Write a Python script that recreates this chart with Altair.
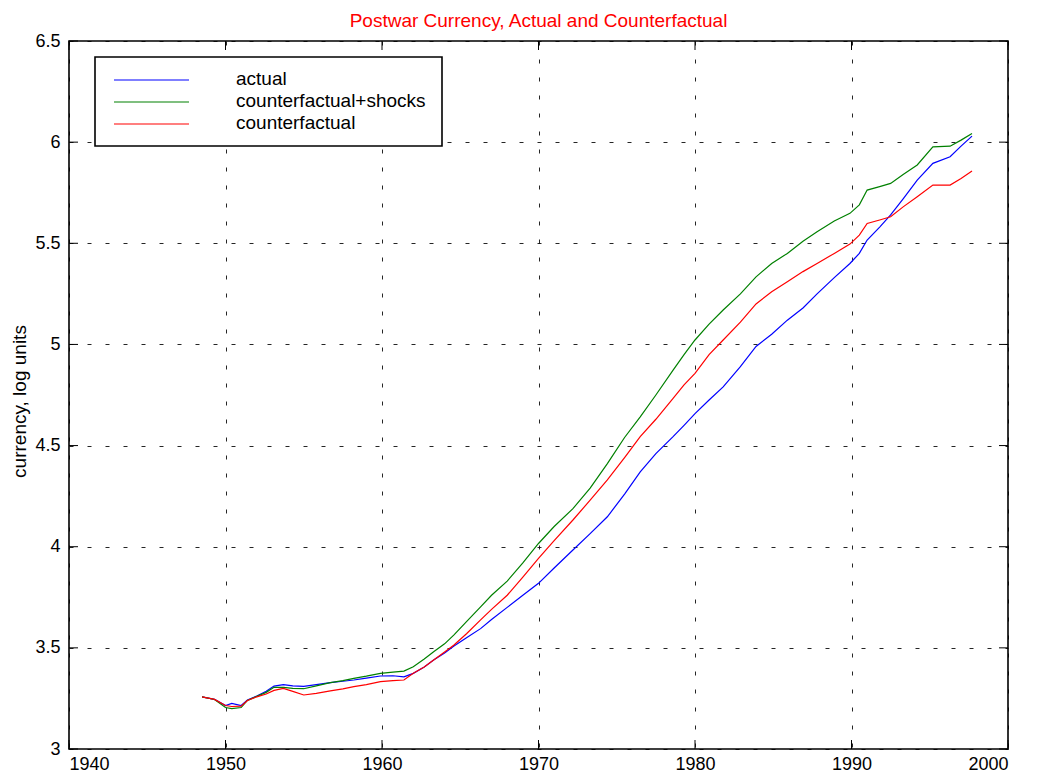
import altair as alt
import pandas as pd

# ---------------- data ----------------
years = [1948.5, 1949.3, 1950.0, 1950.4, 1951.0, 1951.4, 1952.0, 1952.6, 1953.1, 1953.7,
         1954.3, 1955.0, 1955.8, 1956.7, 1957.5, 1958.2, 1959.0, 1959.9, 1960.7, 1961.4,
         1962.0, 1962.7, 1963.3, 1964.0, 1964.6, 1965.4, 1966.3, 1967.0, 1968.0, 1969.0,
         1970.0, 1971.0, 1972.2, 1973.3, 1974.4, 1975.5, 1976.5, 1977.5, 1978.6, 1979.3,
         1980.0, 1980.9, 1981.8, 1982.9, 1983.9, 1984.9, 1985.9, 1986.9, 1987.8, 1988.9,
         1989.9, 1990.5, 1991.0, 1991.8, 1992.5, 1993.3, 1994.2, 1995.2, 1996.3, 1997.0,
         1997.7]

actual = [3.258, 3.245, 3.215, 3.225, 3.215, 3.242, 3.262, 3.285, 3.311, 3.318,
          3.312, 3.310, 3.318, 3.328, 3.335, 3.341, 3.350, 3.361, 3.362, 3.357,
          3.374, 3.405, 3.440, 3.475, 3.509, 3.550, 3.595, 3.640, 3.700, 3.760,
          3.819, 3.895, 3.984, 4.065, 4.148, 4.260, 4.370, 4.460, 4.544, 4.600,
          4.658, 4.725, 4.790, 4.890, 4.990, 5.050, 5.120, 5.180, 5.250, 5.330,
          5.400, 5.450, 5.516, 5.580, 5.640, 5.720, 5.812, 5.895, 5.928, 5.980,
          6.030]

cf_shocks = [3.258, 3.245, 3.205, 3.200, 3.205, 3.240, 3.260, 3.280, 3.305, 3.305,
             3.300, 3.298, 3.312, 3.328, 3.338, 3.349, 3.360, 3.374, 3.380, 3.385,
             3.407, 3.445, 3.481, 3.520, 3.564, 3.630, 3.703, 3.760, 3.830, 3.920,
             4.016, 4.100, 4.188, 4.290, 4.411, 4.540, 4.642, 4.750, 4.873, 4.950,
             5.022, 5.100, 5.170, 5.250, 5.334, 5.400, 5.450, 5.510, 5.557, 5.610,
             5.648, 5.690, 5.763, 5.780, 5.796, 5.840, 5.887, 5.977, 5.980, 6.010,
             6.043]

cf = [3.258, 3.245, 3.215, 3.210, 3.212, 3.240, 3.258, 3.272, 3.290, 3.300,
      3.285, 3.267, 3.275, 3.287, 3.297, 3.308, 3.318, 3.333, 3.338, 3.341,
      3.374, 3.405, 3.440, 3.480, 3.514, 3.570, 3.638, 3.690, 3.760, 3.850,
      3.942, 4.030, 4.132, 4.230, 4.330, 4.440, 4.544, 4.630, 4.733, 4.800,
      4.857, 4.950, 5.022, 5.110, 5.200, 5.260, 5.310, 5.360, 5.400, 5.450,
      5.496, 5.540, 5.598, 5.615, 5.631, 5.680, 5.730, 5.788, 5.788, 5.820,
      5.857]

series_names = ["actual", "counterfactual+shocks", "counterfactual"]
series_colors = ["#0000FF", "#008000", "#FF0000"]
x_ticks = [1940, 1950, 1960, 1970, 1980, 1990, 2000]
y_ticks = [3, 3.5, 4, 4.5, 5, 5.5, 6, 6.5]

# ---------------- tables ----------------
rows = []
for name, vals in zip(series_names, [actual, cf_shocks, cf]):
    for yr, v in zip(years, vals):
        rows.append({"year": yr, "value": v, "series": name})
df = pd.DataFrame(rows)
xt_df = pd.DataFrame({"year": x_ticks})
yt_df = pd.DataFrame({"value": y_ticks})
leg_df = pd.DataFrame({"series": series_names})

W, H = 939, 708
TICK = 9
FONT = "Liberation Sans"

xscale = alt.Scale(domain=[1940, 2000], nice=False, zero=False)
yscale = alt.Scale(domain=[3, 6.5], nice=False, zero=False)

grid_style = dict(grid=True, gridColor="black", gridDash=[4, 14], gridWidth=1, gridOpacity=0.85,
                  ticks=False, domain=False, labelFont=FONT, labelFontSize=18, labelColor="black")
x_axis = alt.Axis(values=x_ticks, format="d", title=None, labelPadding=6, **grid_style)
y_axis = alt.Axis(values=y_ticks, format="~g", title="currency, log units",
                  titleFont=FONT, titleFontSize=19, titleFontWeight="normal",
                  titleColor="black", titlePadding=5, titleY=360, labelPadding=9, **grid_style)
X = alt.X("year:Q", scale=xscale, axis=x_axis)
Y = alt.Y("value:Q", scale=yscale, axis=y_axis)

layers = []
for name, col in zip(series_names, series_colors):
    sub = df[df["series"] == name]
    layers.append(alt.Chart(sub).mark_line(strokeWidth=1.2, color=col).encode(x=X, y=Y))

# inward ticks on all four sides
tick_layers = [
    alt.Chart(xt_df).mark_rule(color="black", strokeWidth=1).encode(
        x=X, y=alt.value(H - TICK), y2=alt.value(H)),
    alt.Chart(xt_df).mark_rule(color="black", strokeWidth=1).encode(
        x=X, y=alt.value(0), y2=alt.value(TICK)),
    alt.Chart(yt_df).mark_rule(color="black", strokeWidth=1).encode(
        y=Y, x=alt.value(0), x2=alt.value(TICK)),
    alt.Chart(yt_df).mark_rule(color="black", strokeWidth=1).encode(
        y=Y, x=alt.value(W - TICK), x2=alt.value(W)),
]

# legend (box, sample lines, labels)
leg_layers = [alt.Chart(leg_df.head(1)).mark_rect(fill="white", stroke="black", strokeWidth=1.6).encode(
    x=alt.value(26), x2=alt.value(373), y=alt.value(16), y2=alt.value(105))]
for i, (name, col) in enumerate(zip(series_names, series_colors)):
    row = leg_df[leg_df["series"] == name]
    ypix = 39 + 22 * i
    leg_layers.append(alt.Chart(row).mark_rule(strokeWidth=1.2, color=col).encode(
        x=alt.value(45), x2=alt.value(120), y=alt.value(ypix)))
    leg_layers.append(alt.Chart(row).mark_text(align="left", baseline="middle", font=FONT,
                                               fontSize=19, color="black").encode(
        x=alt.value(167), y=alt.value(ypix - 1), text="series:N"))

chart = alt.layer(*layers, *tick_layers, *leg_layers).properties(
    width=W, height=H,
    title=alt.TitleParams("Postwar Currency, Actual and Counterfactual", color="red",
                          font=FONT, fontSize=19, fontWeight="normal", anchor="middle", offset=1),
    padding={"left": 61, "top": 33, "right": 21, "bottom": 25},
    autosize=alt.AutoSizeParams(type="none"),
).configure_view(stroke="black", strokeWidth=1.6)

chart.save("out.html", embed_options={"renderer": "svg", "actions": False})
